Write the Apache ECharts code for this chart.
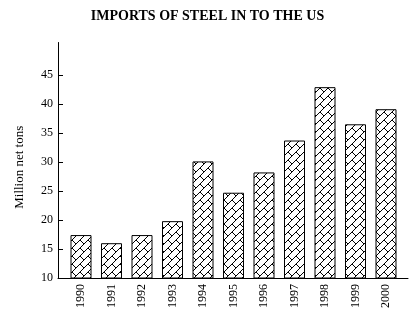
<!DOCTYPE html>
<html><head><meta charset="utf-8">
<script src="https://cdn.jsdelivr.net/npm/echarts@6/dist/echarts.min.js"></script>
<style>html,body{margin:0;padding:0;background:#fff}#c{width:415px;height:328px}</style>
</head><body><div id="c"></div>
<script>
const years = ['1990','1991','1992','1993','1994','1995','1996','1997','1998','1999','2000'];
const imports = [17.4, 16.0, 17.4, 19.8, 30.1, 24.7, 28.2, 33.7, 42.9, 36.5, 39.1];
const yTicks = [10, 15, 20, 25, 30, 35, 40, 45];
const titleText = 'IMPORTS OF STEEL IN TO THE US';
const yName = 'Million net tons';

const tile = document.createElement('canvas');
tile.width = 8; tile.height = 8;
const g = tile.getContext('2d');
g.fillStyle = '#fff'; g.fillRect(0,0,8,8);
g.strokeStyle = '#000'; g.lineWidth = 1;
g.beginPath();
g.moveTo(-1,9); g.lineTo(9,-1);
g.moveTo(0,0); g.lineTo(4,4);
g.stroke();

const serif = '"Liberation Serif", "DejaVu Serif", serif';
const chart = echarts.init(document.getElementById('c'));
chart.setOption({
  animation: false,
  backgroundColor: '#fff',
  title: { text: titleText, left: 'center', top: 4,
    textStyle: { fontFamily: serif, fontSize: 14, fontWeight: 'bold', color: '#000' } },
  grid: [
    { left: 65.75, right: 13.75, top: 42.5, bottom: 50 },
    { left: 58, right: 7, top: 42.5, bottom: 50 }
  ],
  xAxis: [
    { type: 'category', gridIndex: 0, data: years,
      axisLine: { show: false }, axisTick: { show: false },
      axisLabel: { rotate: 90, margin: 6, fontFamily: serif, fontSize: 12, color: '#000' } },
    { type: 'value', gridIndex: 1, min: 0, max: 1,
      axisLine: { show: true, onZero: false, lineStyle: { color: '#000', width: 1 } },
      axisTick: { show: false }, axisLabel: { show: false }, splitLine: { show: false } }
  ],
  yAxis: [
    { type: 'value', gridIndex: 0, min: 10, max: 50.6, show: false, splitLine: { show: false } },
    { type: 'value', gridIndex: 1, min: 10, max: 50.6, interval: 5,
      name: yName, nameLocation: 'middle', nameGap: 32,
      nameTextStyle: { fontFamily: serif, fontSize: 13, color: '#000', padding: [0, 14, 0, 0] },
      axisLine: { show: true, lineStyle: { color: '#000', width: 1 } },
      axisTick: { show: true, inside: true, length: 5, customValues: yTicks, lineStyle: { color: '#000' } },
      axisLabel: { customValues: yTicks, margin: 5, fontFamily: serif, fontSize: 12, color: '#000' },
      splitLine: { show: false } }
  ],
  series: [{
    type: 'bar', xAxisIndex: 0, yAxisIndex: 0, data: imports, barWidth: 21,
    itemStyle: { color: { image: tile, repeat: 'repeat' }, borderColor: '#000', borderWidth: 1 }
  }]
});
</script></body></html>
